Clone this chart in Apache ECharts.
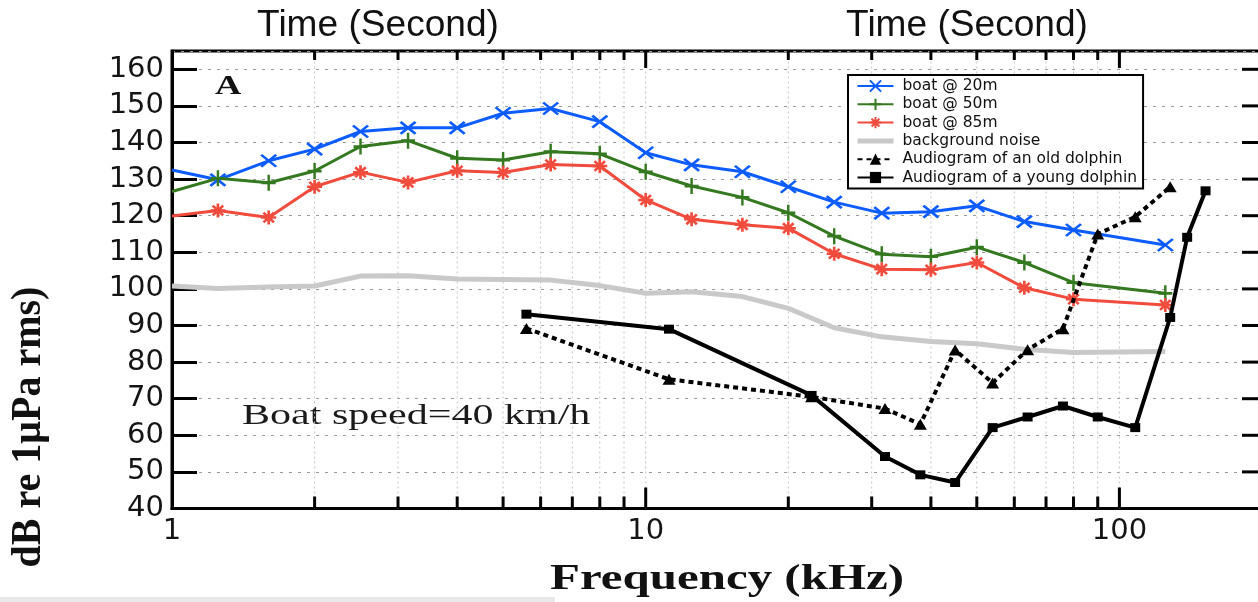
<!DOCTYPE html>
<html>
<head>
<meta charset="utf-8">
<script src="https://cdn.jsdelivr.net/npm/echarts@6/dist/echarts.min.js"></script>
<style>
  html, body { margin: 0; padding: 0; background: #fff; }
  #chart { width: 1258px; height: 602px; }
</style>
</head>
<body>
<div id="chart"></div>
<script>
// One-third-octave band centres (kHz) for the boat recordings
const boatFreq = [1, 1.25, 1.6, 2, 2.5, 3.15, 4, 5, 6.3, 8, 10, 12.5, 16, 20, 25, 31.5, 40, 50, 63, 80, 125];
const boat20m = [132.5, 129.8, 135.0, 138.2, 143.0, 144.0, 144.0, 148.0, 149.3, 145.7, 137.2, 133.9, 132.0, 127.9, 123.7, 120.7, 121.1, 122.7, 118.4, 116.1, 112.0];
const boat50m = [126.6, 130.2, 129.0, 132.2, 138.9, 140.5, 135.7, 135.2, 137.5, 136.9, 132.0, 128.1, 125.0, 120.8, 114.4, 109.5, 108.8, 111.4, 107.2, 101.7, 98.8];
const boat85m = [119.9, 121.4, 119.5, 127.9, 131.9, 129.1, 132.3, 131.8, 134.0, 133.6, 124.3, 119.0, 117.5, 116.6, 109.6, 105.4, 105.2, 107.2, 100.3, 97.2, 95.6];
const backgroundNoise = [100.8, 100.1, 100.5, 100.8, 103.5, 103.6, 102.7, 102.6, 102.4, 100.9, 98.8, 99.2, 97.9, 94.7, 89.4, 86.9, 85.6, 85.0, 83.5, 82.6, 82.9];

// Audiogram thresholds (kHz, dB)
const oldDolphinFreq = [5.6, 11.2, 22.4, 32, 38, 45, 54, 64, 76, 90, 108, 128];
const oldDolphinDb = [89.2, 75.3, 70.5, 67.3, 63.0, 83.3, 74.3, 83.4, 89.1, 115.0, 119.7, 127.9];
const youngDolphinFreq = [5.6, 11.2, 22.4, 32, 38, 45, 54, 64, 76, 90, 108, 128, 139, 152];
const youngDolphinDb = [93.1, 89.0, 70.9, 54.2, 49.2, 47.1, 62.1, 65.0, 68.0, 65.0, 62.1, 92.2, 114.1, 126.8];

// Axis ranges and tick values
const yMin = 40, yMax = 165, yStep = 10;
const xMin = 1, xMax = 200;
const minorFreqTicks = [2, 3, 4, 5, 6, 7, 8, 9, 10, 20, 30, 40, 50, 60, 70, 80, 90, 100];
const majorFreqTicks = [10, 100];
const levelTicks = [50, 60, 70, 80, 90, 100, 110, 120, 130, 140, 150, 160];

const seriesNames = ['boat @ 20m', 'boat @ 50m', 'boat @ 85m', 'background noise',
  'Audiogram of an old dolphin', 'Audiogram of a young dolphin'];

const BLUE = '#0d5cff', GREEN = '#34781f', RED = '#f04b3c', GREY = '#c9c9c9';

const SYM_X = 'path://M0,0L12,12M12,0L0,12';
const SYM_PLUS = 'path://M6,0L6,12M0,6L12,6';
const SYM_STAR = 'path://M6,0L6,12M0,6L12,6M1.8,1.8L10.2,10.2M10.2,1.8L1.8,10.2';

function pairs(xs, ys, hideFirst) {
  return xs.map((x, i) => (hideFirst && i === 0) ? { value: [x, ys[i]], symbol: 'none' } : [x, ys[i]]);
}

function boatSeries(name, values, color, symbol, size) {
  return {
    name, type: 'line', data: pairs(boatFreq, values, true),
    symbol, symbolSize: size, z: 3,
    lineStyle: { color, width: 3 },
    itemStyle: { color, borderColor: color, borderWidth: 2.6 }
  };
}

// Log-spaced ticks on bottom/top edges plus dotted vertical grid lines
function renderFreqTicks(params, api) {
  const v = api.value(0);
  const b = api.coord([v, yMin]);
  const t = api.coord([v, yMax]);
  const major = majorFreqTicks.indexOf(v) >= 0;
  return {
    type: 'group',
    children: [
      { type: 'line', z2: 0, shape: { x1: b[0], y1: b[1], x2: t[0], y2: t[1] },
        style: { stroke: '#c4c4c4', lineWidth: 1, lineDash: [2, 3] } },
      { type: 'line', z2: 5, shape: { x1: b[0], y1: b[1], x2: b[0], y2: b[1] - (major ? 21 : 12) },
        style: { stroke: '#000', lineWidth: 3 } },
      { type: 'line', z2: 5, shape: { x1: t[0], y1: t[1], x2: t[0], y2: t[1] + (major ? 17 : 9) },
        style: { stroke: '#000', lineWidth: 3 } }
    ]
  };
}

// Inward ticks along the right-hand frame edge
function renderLevelTicks(params, api) {
  const p = api.coord([xMax, api.value(1)]);
  return { type: 'line', shape: { x1: p[0], y1: p[1], x2: p[0] - 20, y2: p[1] },
           style: { stroke: '#000', lineWidth: 3 } };
}

const chart = echarts.init(document.getElementById('chart'), null, { renderer: 'canvas' });

const tickFont = { fontFamily: 'DejaVu Sans', fontSize: 29, color: '#141414' };

chart.setOption({
  animation: false,
  backgroundColor: '#fff',
  grid: {
    left: 172, width: 1090, top: 51, bottom: 93.5,
    outerBoundsMode: 'none', containLabel: false,
    show: true, borderColor: '#000', borderWidth: 3, backgroundColor: 'transparent'
  },
  legend: {
    data: seriesNames.map(n => n === 'background noise'
      ? { name: n, itemStyle: { color: 'transparent', borderColor: 'transparent' },
          lineStyle: { color: GREY, width: 5 } }
      : { name: n }),
    orient: 'vertical', left: 848, top: 75,
    itemWidth: 36, itemHeight: 14, itemGap: 2.3,
    padding: [3, 6, 3, 7], borderColor: '#000', borderWidth: 2, backgroundColor: '#fff',
    textStyle: { fontFamily: 'DejaVu Sans', fontSize: 15.5, color: '#111', padding: [0, 0, 0, 4] }
  },
  xAxis: {
    type: 'log', logBase: 10, min: xMin, max: xMax,
    axisLine: { show: true, lineStyle: { color: '#000', width: 3 } },
    axisTick: { show: false },
    splitLine: { show: false },
    minorTick: { show: false },
    axisLabel: Object.assign({ margin: 8, showMaxLabel: false }, tickFont)
  },
  yAxis: {
    type: 'value', min: yMin, max: yMax, interval: yStep,
    axisLine: { show: true, lineStyle: { color: '#000', width: 3 } },
    axisTick: { show: true, inside: true, length: 25, lineStyle: { color: '#000', width: 3 } },
    splitLine: { show: true, lineStyle: { color: '#9a9a9a', width: 1, type: [3, 6] } },
    axisLabel: Object.assign({ margin: 8, showMaxLabel: false }, tickFont)
  },
  series: [
    {
      type: 'custom', silent: true, z: 1,
      data: minorFreqTicks.map(f => [f, yMin]),
      encode: { x: 0, y: 1 },
      renderItem: renderFreqTicks
    },
    {
      type: 'custom', silent: true, z: 6, clip: false,
      data: levelTicks.map(v => [xMax, v]),
      encode: { x: 0, y: 1 },
      renderItem: renderLevelTicks
    },
    boatSeries(seriesNames[0], boat20m, BLUE, SYM_X, [15, 12]),
    boatSeries(seriesNames[1], boat50m, GREEN, SYM_PLUS, [14, 16]),
    boatSeries(seriesNames[2], boat85m, RED, SYM_STAR, [15, 14]),
    {
      name: seriesNames[3], type: 'line', data: pairs(boatFreq, backgroundNoise, false),
      symbol: 'none', z: 2,
      lineStyle: { color: GREY, width: 5 }, itemStyle: { color: GREY }
    },
    {
      name: seriesNames[4], type: 'line', data: pairs(oldDolphinFreq, oldDolphinDb, false),
      symbol: 'triangle', symbolSize: [13, 11], z: 4,
      lineStyle: { color: '#000', width: 4, type: [5, 4] },
      itemStyle: { color: '#000' }
    },
    {
      name: seriesNames[5], type: 'line', data: pairs(youngDolphinFreq, youngDolphinDb, false),
      symbol: 'rect', symbolSize: [10, 9], z: 5,
      lineStyle: { color: '#000', width: 4 },
      itemStyle: { color: '#000' }
    }
  ],
  graphic: [
    { type: 'text', x: 378, y: 26, scaleX: 1.03, silent: true,
      style: { text: 'Time (Second)', fontFamily: 'Liberation Sans', fontSize: 36, fill: '#111',
               align: 'center', verticalAlign: 'middle', textAlign: 'center', textVerticalAlign: 'middle' } },
    { type: 'text', x: 967, y: 26, scaleX: 1.03, silent: true,
      style: { text: 'Time (Second)', fontFamily: 'Liberation Sans', fontSize: 36, fill: '#111',
               align: 'center', verticalAlign: 'middle', textAlign: 'center', textVerticalAlign: 'middle' } },
    { type: 'text', x: 215, y: 87, scaleX: 1.35, silent: true,
      style: { text: 'A', fontFamily: 'Liberation Serif', fontWeight: 'bold', fontSize: 27, fill: '#111',
               align: 'left', verticalAlign: 'middle', textAlign: 'left', textVerticalAlign: 'middle' } },
    { type: 'text', x: 242, y: 416, scaleX: 1.45, silent: true,
      style: { text: 'Boat speed=40 km/h', fontFamily: 'Liberation Serif', fontSize: 29, fill: '#1a1a1a',
               align: 'left', verticalAlign: 'middle', textAlign: 'left', textVerticalAlign: 'middle' } },
    { type: 'text', x: 727, y: 580, scaleX: 1.36, silent: true,
      style: { text: 'Frequency (kHz)', fontFamily: 'Liberation Serif', fontWeight: 'bold', fontSize: 36, fill: '#111',
               align: 'center', verticalAlign: 'middle', textAlign: 'center', textVerticalAlign: 'middle' } },
    { type: 'text', x: 29, y: 427, rotation: Math.PI / 2, scaleY: 1.08, silent: true,
      style: { text: 'dB re 1μPa rms)', fontFamily: 'Liberation Serif', fontWeight: 'bold', fontSize: 40, fill: '#111',
               align: 'center', verticalAlign: 'middle', textAlign: 'center', textVerticalAlign: 'middle' } },
    { type: 'rect', silent: true, z: -1, shape: { x: 0, y: 597, width: 555, height: 5 }, style: { fill: '#e8e8e8' } }
  ]
});
</script>
</body>
</html>
